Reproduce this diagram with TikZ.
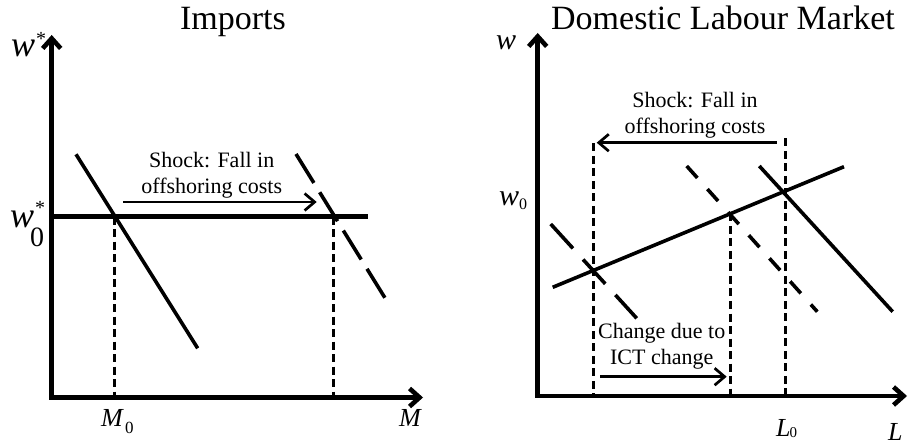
\documentclass[tikz,border=0pt]{standalone}
\usepackage{fontspec}
\setmainfont{Liberation Serif}
\usetikzlibrary{arrows.meta}
\newcommand{\setfs}[1]{\fontsize{#1}{#1}\selectfont}

\begin{document}
\begin{tikzpicture}[
    x=1pt, y=-1pt,
    axis/.style={line width=4.6pt, arrows={Straight Barb[length=10pt,width=18pt]-Straight Barb[length=10pt,width=18pt]}},
    level/.style={line width=4.6pt},
    curve/.style={line width=3.6pt},
    longdash/.style={curve, dash pattern=on 34pt off 11pt},
    shortdash/.style={curve, dash pattern=on 16pt off 15pt},
    middash/.style={curve, dash pattern=on 33pt off 15pt},
    guide/.style={line width=3pt, dash pattern=on 8pt off 4.5pt},
    shock/.style={line width=2.7pt, arrows={-Straight Barb[length=10pt,width=17pt]}},
    title/.style={inner sep=0, anchor=base, font=\setfs{34}},
    note/.style={inner sep=0, anchor=north, align=center, font=\fontsize{22}{26}\selectfont},
    lab/.style={inner sep=0, anchor=base west}
]
\useasboundingbox (0,0) rectangle (910,446);

% left panel: imports
\coordinate (O1) at (51.7,397.5);
\coordinate (yTip1) at (51.7,35);
\coordinate (xTip1) at (423,397.5);
\coordinate (hL) at (51.7,216.7);
\coordinate (hR) at (367.7,216.7);
\coordinate (dA) at (76,154.3);
\coordinate (dB) at (197.7,348.3);
\coordinate (nA) at (296,154);
\coordinate (nB) at (388.3,303.3);
\coordinate (m0) at (114.5,216.7);
\coordinate (m1) at (333.5,216.7);
\coordinate (sA) at (123.3,202);
\coordinate (sB) at (316.7,202);

\draw[axis] (yTip1) -- (O1) -- (xTip1);
\draw[level] (hL) -- (hR);
\draw[curve] (dA) -- (dB);
\draw[longdash] (nA) -- (nB);
\draw[guide] (m0) -- (m0 |- O1);
\draw[guide] (m1) -- (m1 |- O1);
\draw[shock] (sA) -- (sB);

\node[title] (imports) at (233,30) {Imports};
\node[note] (shockM) at (211.7,151.7) {Shock: Fall in\\offshoring costs};
\node[lab] (wstar) at (11,57) {\setfs{36}\textit{w}\kern1pt\raisebox{11pt}{\setfs{20}*}};
\node[lab] (wstar0) at (10,228) {\setfs{36}\textit{w}\rlap{\kern1pt\raisebox{13pt}{\setfs{20}*}}\kern-4pt\raisebox{-19pt}{\setfs{28}0}};
\node[lab] (Mzero) at (101,426.7) {\setfs{26}\textit{M}\kern1pt\raisebox{-6.5pt}{\setfs{17}0}};
\node[lab] (Mlab) at (399,426.7) {\setfs{26}\textit{M}};

% right panel: domestic labour market
\coordinate (O2) at (537.7,396);
\coordinate (yTip2) at (537.7,33);
\coordinate (xTip2) at (907,396);
\coordinate (sL) at (552.7,287.3);
\coordinate (sR) at (844,166.7);
\coordinate (rA) at (759.3,166);
\coordinate (rB) at (892.7,311.7);
\coordinate (cA) at (686.7,166);
\coordinate (cB) at (817.3,311.7);
\coordinate (lA) at (550.7,224);
\coordinate (lB) at (636.7,318.3);
\coordinate (eL) at (593.3,143.3);
\coordinate (eC) at (730,213.5);
\coordinate (eR) at (785,138.3);
\coordinate (fA) at (776.7,142.7);
\coordinate (fB) at (596.7,142.7);
\coordinate (gA) at (600,376.7);
\coordinate (gB) at (726.7,376.7);

\draw[axis] (yTip2) -- (O2) -- (xTip2);
\draw[curve] (sL) -- (sR);
\draw[curve] (rA) -- (rB);
\draw[shortdash] (cA) -- (cB);
\draw[middash] (lA) -- (lB);
\draw[guide] (eL) -- (eL |- O2);
\draw[guide] (eC) -- (eC |- O2);
\draw[guide] (eR) -- (eR |- O2);
\draw[shock] (fA) -- (fB);
\draw[shock] (gA) -- (gB);

\node[title] (domestic) at (723,30) {Domestic Labour Market};
\node[note] (shockL) at (695,91.7) {Shock: Fall in\\offshoring costs};
\node[note] (ict) at (661.7,323.3) {Change due to\\ICT change};
\node[lab] (wlab) at (496,50) {\setfs{30}\textit{w}};
\node[lab] (wzero) at (499,205.5) {\setfs{30}\textit{w}\raisebox{-4pt}{\setfs{16}0}};
\node[lab] (Lzero) at (776,436.7) {\setfs{26}\textit{L}\kern-1pt\raisebox{-0.5pt}{\setfs{15}0}};
\node[lab] (Llab) at (888,440) {\setfs{26}\textit{L}};
\end{tikzpicture}
\end{document}
